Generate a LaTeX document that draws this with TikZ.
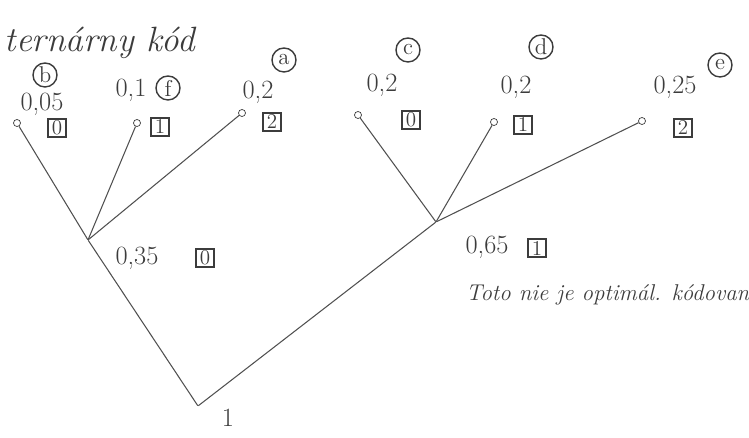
\documentclass[tikz,border=0pt]{standalone}
\usepackage{tikz}

\begin{document}
\begin{tikzpicture}
        % Define colors
        \definecolor{inkcolor}{RGB}{60, 60, 60}   % pencil grey
        \definecolor{edgecolor}{RGB}{80, 80, 80}  % edge grey

        \tikzset{
            leaf/.style={draw=inkcolor, circle, inner sep=0pt, minimum size=4pt, fill=white},
            inner/.style={inner sep=0pt, minimum size=0pt},
            prob/.style={text=inkcolor, font=\fontsize{15}{17}\selectfont},
            digitbox/.style={draw=inkcolor, thick, inner sep=1pt, minimum size=0.36cm, text=inkcolor, font=\fontsize{12}{13}\selectfont},
            symb/.style={draw=inkcolor, thick, circle, inner sep=0pt, minimum size=0.48cm, text=inkcolor, font=\fontsize{13}{14}\selectfont},
            edge/.style={edgecolor, semithick}
        }

        \useasboundingbox (0,0) rectangle (14.98,8.76);

        % Title
        \node[prob, font=\fontsize{20}{22}\selectfont\itshape] (title) at (2.0,7.90) {tern\'arny k\'od};

        % Leaves
        \node[leaf] (b) at (0.34,6.30) {};
        \node[leaf] (f) at (2.74,6.30) {};
        \node[leaf] (a) at (4.84,6.50) {};
        \node[leaf] (c) at (7.16,6.46) {};
        \node[leaf] (d) at (9.88,6.32) {};
        \node[leaf] (e) at (12.84,6.34) {};

        % Inner nodes
        \node[inner] (n035) at (1.76,3.96) {};
        \node[inner] (n065) at (8.72,4.32) {};
        \node[inner] (root) at (3.96,0.64) {};

        % Leaf labels
        \node[prob] (pb) at (0.84,6.68) {0,05};
        \node[digitbox] (kb) at (1.14,6.20) {0};
        \node[symb] (sb) at (0.90,7.26) {b};

        \node[prob] (pf) at (2.62,6.96) {0,1};
        \node[digitbox] (kf) at (3.20,6.22) {1};
        \node[symb] (sf) at (3.36,7.00) {f};

        \node[prob] (pa) at (5.16,6.92) {0,2};
        \node[digitbox] (ka) at (5.44,6.32) {2};
        \node[symb] (sa) at (5.68,7.56) {a};

        \node[prob] (pc) at (7.64,7.06) {0,2};
        \node[digitbox] (kc) at (8.22,6.36) {0};
        \node[symb] (sc) at (8.16,7.76) {c};

        \node[prob] (pd) at (10.32,7.02) {0,2};
        \node[digitbox] (kd) at (10.46,6.26) {1};
        \node[symb] (sd) at (10.82,7.82) {d};

        \node[prob] (pe) at (13.50,7.02) {0,25};
        \node[digitbox] (ke) at (13.66,6.20) {2};
        \node[symb] (se) at (14.40,7.46) {e};

        % Inner node labels
        \node[prob] (p035) at (2.74,3.60) {0,35};
        \node[digitbox] (k035) at (4.10,3.60) {0};
        \node[prob] (p065) at (9.74,3.82) {0,65};
        \node[digitbox] (k065) at (10.74,3.80) {1};
        \node[prob] (p1) at (4.56,0.40) {1};

        % Edges
        \draw[edge] (n035) -- (b);
        \draw[edge] (n035) -- (f);
        \draw[edge] (n035) -- (a);
        \draw[edge] (n065) -- (c);
        \draw[edge] (n065) -- (d);
        \draw[edge] (n065) -- (e);
        \draw[edge] (root) -- (n035);
        \draw[edge] (root) -- (n065);

        % Note
        \node[prob, font=\fontsize{13}{15}\selectfont\itshape, anchor=west] (note) at (9.20,2.86) {Toto nie je optim\'al. k\'odovan};
    \end{tikzpicture}
\end{document}
